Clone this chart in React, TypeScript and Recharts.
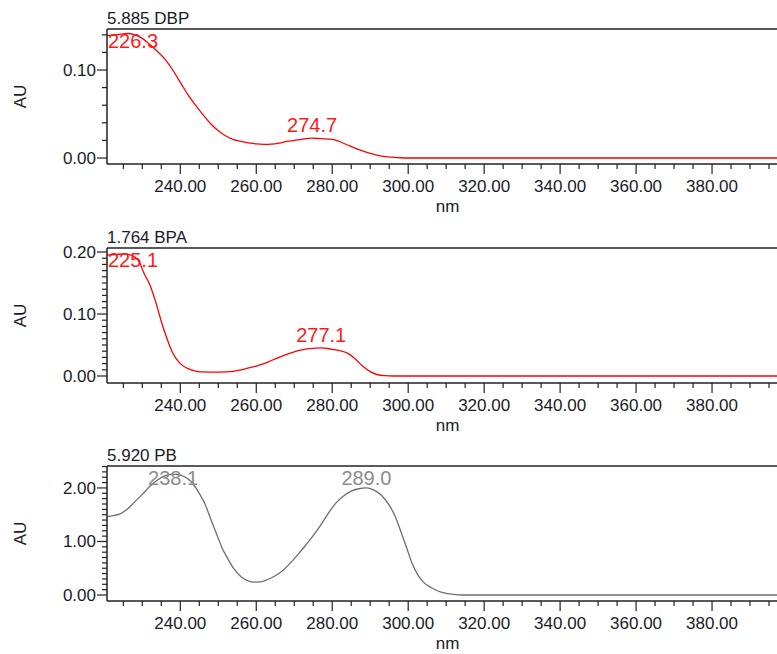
import { LineChart, Line, XAxis, YAxis, ReferenceDot, ReferenceLine } from "recharts"

// wavelength (nm) / absorbance (AU) pairs for each spectrum
const dbpNm = [220.7, 223, 225, 226.3, 228, 230, 232, 234, 236, 238, 240, 242, 244, 246, 248, 250, 252, 254, 256, 258, 260, 262, 264, 266, 268, 270, 272, 274.7, 277, 280, 282, 284, 286, 288, 290, 292, 294, 296, 298, 300, 320, 340, 360, 380, 400]
const dbpAu = [0.139, 0.14, 0.141, 0.1415, 0.14, 0.136, 0.129, 0.121, 0.112, 0.1, 0.086, 0.072, 0.06, 0.049, 0.039, 0.031, 0.025, 0.021, 0.019, 0.0172, 0.016, 0.0155, 0.0158, 0.017, 0.0188, 0.02, 0.0213, 0.0225, 0.022, 0.0212, 0.0185, 0.0148, 0.0112, 0.008, 0.0052, 0.003, 0.0016, 0.0009, 0.0003, 0, 0, 0, 0, 0, 0]
const dbpPeaks = [226.3, 274.7]

const bpaNm = [220.7, 223, 225.1, 227, 229, 230.5, 232, 233.5, 235, 236.5, 238, 240, 242, 244, 246, 250, 254, 256, 258, 260, 262, 264, 266, 268, 270, 272, 274, 277.1, 280, 282, 284, 286, 288, 290, 292, 294, 296, 300, 320, 340, 360, 380, 400]
const bpaAu = [0.195, 0.196, 0.197, 0.195, 0.186, 0.165, 0.147, 0.12, 0.088, 0.06, 0.037, 0.02, 0.012, 0.008, 0.0065, 0.0062, 0.0075, 0.01, 0.013, 0.016, 0.02, 0.025, 0.03, 0.035, 0.039, 0.042, 0.044, 0.0455, 0.043, 0.041, 0.037, 0.028, 0.016, 0.007, 0.002, 0.0005, 0, 0, 0, 0, 0, 0, 0]
const bpaPeaks = [225.1, 277.1]

const pbNm = [220.7, 222, 224, 226, 228, 230, 232, 234, 236, 238.1, 240, 242, 243.5, 245, 246.5, 248, 249.5, 251, 252.5, 254, 256, 258, 259.5, 261, 263, 265, 267, 269, 271, 273, 275, 277, 279, 281, 283, 285, 287, 289, 291, 293, 295, 296.5, 298, 299.5, 301, 302.5, 304, 306, 308, 310, 312, 314, 340, 370, 400]
const pbAu = [1.46, 1.48, 1.51, 1.6, 1.74, 1.88, 2.03, 2.15, 2.23, 2.26, 2.24, 2.17, 2.06, 1.9, 1.7, 1.42, 1.15, 0.88, 0.68, 0.5, 0.34, 0.26, 0.24, 0.245, 0.29, 0.36, 0.46, 0.6, 0.76, 0.93, 1.11, 1.31, 1.53, 1.72, 1.85, 1.94, 1.985, 2.0, 1.96, 1.86, 1.68, 1.48, 1.2, 0.9, 0.6, 0.38, 0.24, 0.14, 0.07, 0.03, 0.01, 0, 0, 0, 0]
const pbPeaks = [238.1, 289.0]

// axis ticks
const xMinor = [225, 230, 235, 240, 245, 250, 255, 260, 265, 270, 275, 280, 285, 290, 295, 300, 305, 310, 315, 320, 325, 330, 335, 340, 345, 350, 355, 360, 365, 370, 375, 380, 385, 390, 395]
const xMajor = [240, 260, 280, 300, 320, 340, 360, 380]

const dbpYTicks = [0, 0.02, 0.04, 0.06, 0.08, 0.1, 0.12, 0.14]
const dbpYMajor = [0, 0.1]
const bpaYTicks = [0, 0.01, 0.02, 0.03, 0.04, 0.05, 0.06, 0.07, 0.08, 0.09, 0.1, 0.11, 0.12, 0.13, 0.14, 0.15, 0.16, 0.17, 0.18, 0.19, 0.2]
const bpaYMajor = [0, 0.1, 0.2]
const pbYTicks = [0, 0.1, 0.2, 0.3, 0.4, 0.5, 0.6, 0.7, 0.8, 0.9, 1, 1.1, 1.2, 1.3, 1.4, 1.5, 1.6, 1.7, 1.8, 1.9, 2, 2.1, 2.2, 2.3, 2.4]
const pbYMajor = [0, 1, 2]

const FONT = "'Liberation Sans', Arial, sans-serif"
const AXIS = "#222"
const TEXT = "#1b1b28"

const CHART_W = 800
const CHART_H = 219
const PLOT_LEFT = 107
const PLOT_TOP = 29
const PLOT_BOTTOM = 164
const PLOT_RIGHT = 788

const near = (list: number[], v: number) => list.some((m) => Math.abs(m - v) < 1e-6)

const XTick = (props: any) => {
  const { x, y, payload } = props
  const major = near(xMajor, payload.value)
  return (
    <g>
      <line x1={x} x2={x} y1={y} y2={y + (major ? 10 : 5)} stroke={AXIS} strokeWidth={1.2} />
      {major && (
        <text x={x} y={y + 28} textAnchor="middle" fill={TEXT} fontSize={17} fontFamily={FONT}>
          {Number(payload.value).toFixed(2)}
        </text>
      )}
    </g>
  )
}

const makeYTick = (majors: number[]) => (props: any) => {
  const { x, y, payload } = props
  const major = near(majors, payload.value)
  return (
    <g>
      <line x1={x - (major ? 10 : 5)} x2={x} y1={y} y2={y} stroke={AXIS} strokeWidth={1.2} />
      {major && (
        <text x={x - 11} y={y} dy="0.35em" textAnchor="end" fill={TEXT} fontSize={17} fontFamily={FONT}>
          {Number(payload.value).toFixed(2)}
        </text>
      )}
    </g>
  )
}

// peak wavelength label, kept inside the plot box
const makePeakLabel = (text: string, color: string) => (props: any) => {
  const vb = props.viewBox ?? {}
  const cx = (vb.x ?? 0) + (vb.width ?? 0) / 2
  const cy = (vb.y ?? 0) + (vb.height ?? 0) / 2
  const x = Math.max(cx, PLOT_LEFT + 26)
  const y = Math.max(cy - 6, PLOT_TOP + 19)
  return (
    <text x={x} y={y} textAnchor="middle" fill={color} fontSize={20} fontFamily={FONT}>
      {text}
    </text>
  )
}

type PanelProps = {
  title: string
  nm: number[]
  au: number[]
  peaks: number[]
  color: string
  labelColor: string
  yDomain: [number, number]
  yTicks: number[]
  yMajor: number[]
  top: number
}

function SpectrumPanel({ title, nm, au, peaks, color, labelColor, yDomain, yTicks, yMajor, top }: PanelProps) {
  const rows = nm.map((w, i) => ({ nm: w, au: au[i] }))
  const YTick = makeYTick(yMajor)
  return (
    <div style={{ position: "absolute", left: 0, top }}>
      <LineChart width={CHART_W} height={CHART_H} data={rows} margin={{ top: PLOT_TOP, right: CHART_W - PLOT_RIGHT, left: 0, bottom: 0 }}>
        <XAxis
          dataKey="nm"
          type="number"
          domain={[220.7, 400]}
          allowDataOverflow
          ticks={xMinor}
          interval={0}
          height={CHART_H - PLOT_BOTTOM}
          tickSize={0}
          tickMargin={0}
          tickLine={false}
          tick={<XTick />}
          axisLine={{ stroke: AXIS, strokeWidth: 1.5 }}
          label={{
            content: () => (
              <text x={(PLOT_LEFT + PLOT_RIGHT) / 2} y={PLOT_BOTTOM + 48} textAnchor="middle" fill={TEXT} fontSize={17} fontFamily={FONT}>
                nm
              </text>
            ),
          }}
        />
        <YAxis
          type="number"
          domain={yDomain}
          allowDataOverflow
          ticks={yTicks}
          interval={0}
          width={PLOT_LEFT}
          tickSize={0}
          tickMargin={0}
          tickLine={false}
          tick={<YTick />}
          axisLine={{ stroke: AXIS, strokeWidth: 1.5 }}
          label={{
            content: () => {
              const cy = (PLOT_TOP + PLOT_BOTTOM) / 2
              return (
                <text x={20} y={cy} transform={`rotate(-90 20 ${cy})`} textAnchor="middle" dy="0.35em" fill={TEXT} fontSize={17} fontFamily={FONT}>
                  AU
                </text>
              )
            },
          }}
        />
        {/* top edge of the plot box, with the run title above it */}
        <ReferenceLine
          y={yDomain[1]}
          stroke={AXIS}
          strokeWidth={1.5}
          ifOverflow="visible"
          label={{
            content: () => (
              <text x={PLOT_LEFT} y={PLOT_TOP - 5} fill={TEXT} fontSize={17} fontFamily={FONT}>
                {title}
              </text>
            ),
          }}
        />
        <Line type="monotone" dataKey="au" stroke={color} strokeWidth={1.3} dot={false} activeDot={false} isAnimationActive={false} />
        {peaks.map((p) => (
          <ReferenceDot
            key={p}
            x={p}
            y={au[nm.indexOf(p)]}
            r={0}
            fill="none"
            stroke="none"
            label={{ content: makePeakLabel(p.toFixed(1), labelColor) }}
          />
        ))}
      </LineChart>
    </div>
  )
}

export default function App() {
  return (
    <div style={{ position: "absolute", left: 0, top: 0, width: 777, height: 654, overflow: "hidden", background: "#fff" }}>
      <SpectrumPanel title="5.885 DBP" nm={dbpNm} au={dbpAu} peaks={dbpPeaks} color="#ff0000" labelColor="#ff1a1a" yDomain={[-0.0068, 0.1466]} yTicks={dbpYTicks} yMajor={dbpYMajor} top={0} />
      <SpectrumPanel title="1.764 BPA" nm={bpaNm} au={bpaAu} peaks={bpaPeaks} color="#ff0000" labelColor="#ff1a1a" yDomain={[-0.0113, 0.2065]} yTicks={bpaYTicks} yMajor={bpaYMajor} top={219} />
      <SpectrumPanel title="5.920 PB" nm={pbNm} au={pbAu} peaks={pbPeaks} color="#6e6e6e" labelColor="#8c8c8c" yDomain={[-0.112, 2.41]} yTicks={pbYTicks} yMajor={pbYMajor} top={437} />
    </div>
  )
}
